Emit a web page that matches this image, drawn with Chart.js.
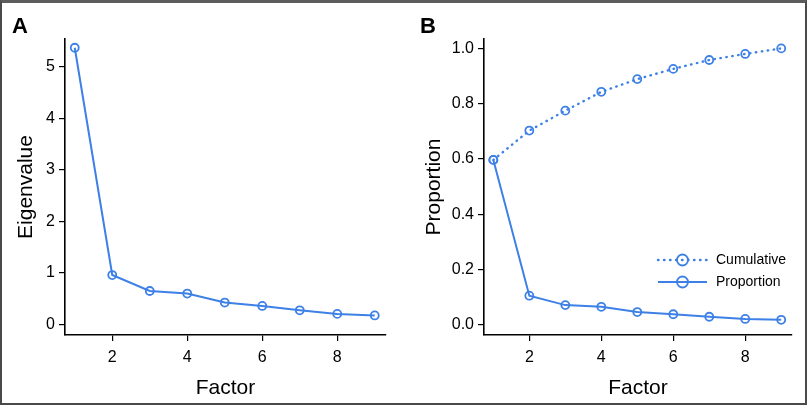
<!DOCTYPE html>
<html>
<head>
<meta charset="utf-8">
<script src="https://cdn.jsdelivr.net/npm/chart.js@4"></script>
<style>
  html, body { margin: 0; padding: 0; background: #fff; }
  #frame {
    position: relative; width: 807px; height: 405px; box-sizing: border-box;
    border: 2px solid #4a4a4a; border-top: 3px solid #5c5c5c; overflow: hidden;
  }
  .panel { position: absolute; top: -3px; height: 405px; }
  #wrapA { left: -2px; width: 400px; }
  #wrapB { left: 398px; width: 407px; }
  .letter {
    position: absolute; top: 10px; font: bold 22px "Liberation Sans", Arial, sans-serif; color: #000;
  }
</style>
</head>
<body>
<div id="frame">
  <div class="panel" id="wrapA"><canvas id="chartA" width="400" height="405"></canvas></div>
  <div class="panel" id="wrapB"><canvas id="chartB" width="407" height="405"></canvas></div>
  <div class="letter" style="left:10px">A</div>
  <div class="letter" style="left:418px">B</div>
</div>
<script>
const factors = [1, 2, 3, 4, 5, 6, 7, 8, 9];
const eigenvalues = [5.37, 0.955, 0.645, 0.595, 0.42, 0.355, 0.27, 0.2, 0.17];
const proportion = [0.597, 0.106, 0.072, 0.066, 0.047, 0.039, 0.030, 0.022, 0.019];
const cumulative = [0.597, 0.703, 0.775, 0.843, 0.889, 0.926, 0.958, 0.980, 1.0];
const xTicks = [2, 4, 6, 8];
const yTicksA = [0, 1, 2, 3, 4, 5];
const yTicksB = [0, 0.2, 0.4, 0.6, 0.8, 1.0];

const BLUE = '#3d80e6';
const FONT = '"Liberation Sans", Arial, sans-serif';

const toPoints = (ys) => factors.map((x, i) => ({ x, y: ys[i] }));

const lineStyle = (dash) => ({
  borderColor: BLUE,
  borderWidth: 2,
  borderDash: dash,
  pointRadius: 4,
  pointBorderWidth: 1.8,
  pointBorderColor: BLUE,
  pointBackgroundColor: 'rgba(0,0,0,0)',
  tension: 0,
});

function axes(yTicks, yMin, yMax, yTitle, yWidth, titlePad, fmt) {
  const tickFont = { family: FONT, size: 16 };
  const titleFont = { family: FONT, size: 21 };
  return {
    x: {
      type: 'linear', min: 0.74, max: 9.3,
      afterBuildTicks: (s) => { s.ticks = xTicks.map((v) => ({ value: v })); },
      afterFit: (s) => { s.height = 70; },
      grid: { drawOnChartArea: false, tickLength: 6, color: '#000', lineWidth: 1.2 },
      border: { color: '#000', width: 1.6 },
      ticks: { font: tickFont, color: '#000', padding: 7, maxRotation: 0 },
      title: { display: true, text: 'Factor', font: titleFont, color: '#000', padding: { top: 0 } },
    },
    y: {
      type: 'linear', min: yMin, max: yMax,
      afterBuildTicks: (s) => { s.ticks = yTicks.map((v) => ({ value: v })); },
      afterFit: (s) => { s.width = yWidth; },
      grid: { drawOnChartArea: false, tickLength: 6, color: '#000', lineWidth: 1.2 },
      border: { color: '#000', width: 1.6 },
      ticks: { font: tickFont, color: '#000', padding: 4, callback: fmt },
      title: { display: true, text: yTitle, font: titleFont, color: '#000', padding: { top: titlePad, bottom: 0 } },
    },
  };
}

// legend drawn inside the plot, line sample + circle + label
const insideLegend = {
  id: 'insideLegend',
  afterDraw(chart, args, opts) {
    if (!opts.show) return;
    const ctx = chart.ctx;
    const area = chart.chartArea;
    const x0 = area.right + opts.dx;
    chart.data.datasets.forEach((ds, i) => {
      const y = area.top + opts.dy + i * 22;
      ctx.save();
      ctx.strokeStyle = ds.borderColor;
      ctx.lineWidth = ds.borderWidth;
      ctx.lineCap = ds.borderCapStyle || 'butt';
      ctx.setLineDash(ds.borderDash || []);
      ctx.beginPath();
      ctx.moveTo(x0, y);
      ctx.lineTo(x0 + 49, y);
      ctx.stroke();
      ctx.setLineDash([]);
      ctx.lineWidth = 1.8;
      ctx.beginPath();
      ctx.arc(x0 + 24.5, y, 5.5, 0, Math.PI * 2);
      ctx.stroke();
      ctx.fillStyle = '#000';
      ctx.font = '14px ' + FONT;
      ctx.textBaseline = 'middle';
      ctx.fillText(ds.label, x0 + 58, y + 0.5);
      ctx.restore();
    });
  },
};

new Chart(document.getElementById('chartA'), {
  type: 'line',
  data: { datasets: [{ label: 'Eigenvalue', data: toPoints(eigenvalues), ...lineStyle([]) }] },
  options: {
    responsive: false, animation: false,
    layout: { padding: { top: 39, right: 14, left: 0, bottom: 0 } },
    plugins: { legend: { display: false }, tooltip: { enabled: false }, insideLegend: { show: false } },
    scales: axes(yTicksA, -0.21, 5.54, 'Eigenvalue', 65, 14, (v) => String(v)),
  },
  plugins: [insideLegend],
});

new Chart(document.getElementById('chartB'), {
  type: 'line',
  data: {
    datasets: [
      { label: 'Cumulative', data: toPoints(cumulative), ...lineStyle([0.5, 5.5]), borderCapStyle: 'round', borderWidth: 2.4 },
      { label: 'Proportion', data: toPoints(proportion), ...lineStyle([]) },
    ],
  },
  options: {
    responsive: false, animation: false,
    layout: { padding: { top: 39, right: 15, left: 0, bottom: 0 } },
    plugins: { legend: { display: false }, tooltip: { enabled: false }, insideLegend: { show: true, dx: -134, dy: 221 } },
    scales: axes(yTicksB, -0.036, 1.034, 'Proportion', 84, 22, (v) => v.toFixed(1)),
  },
  plugins: [insideLegend],
});
</script>
</body>
</html>
